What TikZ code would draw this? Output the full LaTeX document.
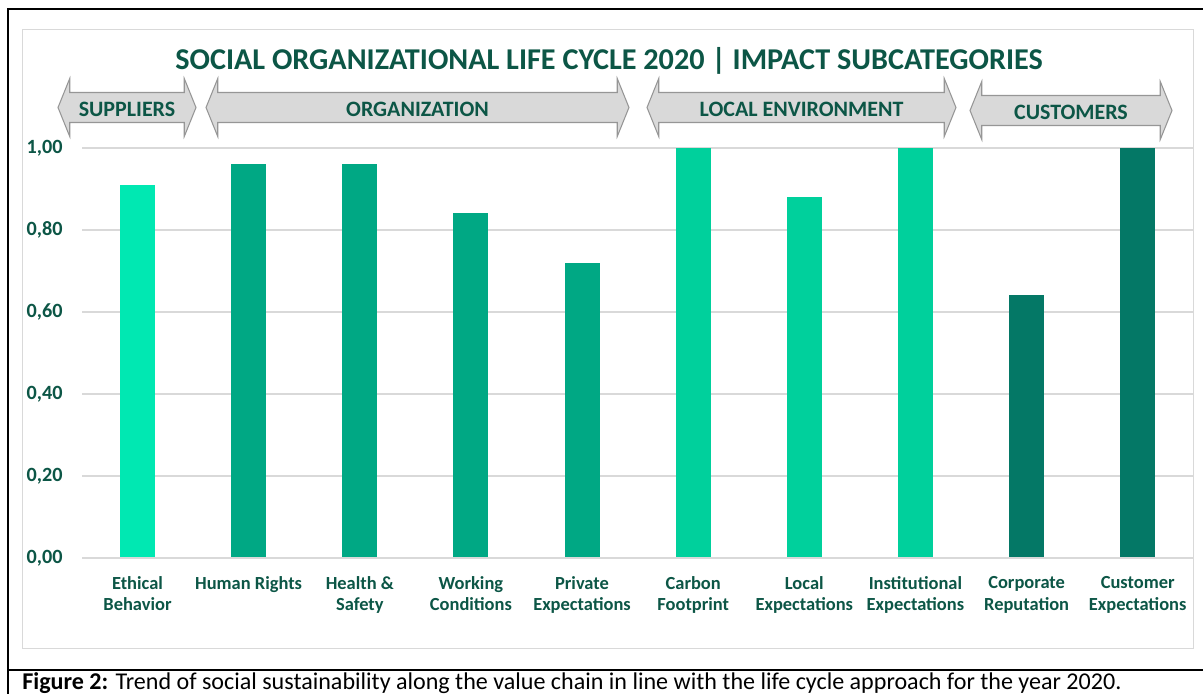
\documentclass[tikz,border=0pt]{standalone}
\usepackage{fontspec}
\setmainfont{Carlito}
\usepackage{xcolor}
\newlength{\barunit}
\newlength{\labgap}
\usepackage{tikz}
\usetikzlibrary{positioning}
\usetikzlibrary{shapes.arrows}
\definecolor{titlegreen}{RGB}{12,86,70}
\definecolor{suppcol}{RGB}{0,232,178}
\definecolor{orgcol}{RGB}{0,168,132}
\definecolor{envcol}{RGB}{0,208,156}
\definecolor{custcol}{RGB}{4,120,102}
\definecolor{gridgray}{RGB}{217,217,217}
\definecolor{arrowfill}{RGB}{217,217,217}
\definecolor{arrowline}{RGB}{150,150,150}
\tikzstyle{bar}=[rectangle, inner sep=0pt, minimum width=0.7cm, anchor=south]
\tikzstyle{catlab}=[inner sep=0pt, align=center, anchor=north, text=titlegreen, font=\bfseries\fontsize{10.5}{12.3}\selectfont]
\tikzstyle{ylab}=[inner sep=0pt, anchor=east, text=titlegreen, font=\bfseries\fontsize{11.5}{13}\selectfont]
\tikzstyle{grid}=[draw=gridgray, line width=0.8pt]
\tikzstyle{stage}=[double arrow, draw=arrowline, fill=arrowfill, line width=0.6pt, double arrow head extend=0.28cm, double arrow tip angle=136, inner xsep=0pt, inner ysep=0.08cm, text height=0.38cm, text depth=0.04cm, text=titlegreen, font=\bfseries\fontsize{12.5}{14}\selectfont]

\begin{document}
\begin{tikzpicture}[x=0.02cm, y=-0.02cm]

				\setlength{\barunit}{8.2cm}
				\setlength{\labgap}{0.36cm}

				\useasboundingbox (0,0) rectangle (1203,693);
				\clip (0,0) rectangle (1203,693);
				\fill[white] (0,0) rectangle (1203,693);

				% outer table frame
				\coordinate (tl) at (8,9);
				\coordinate (tr) at (1210,9);
				\coordinate (ml) at (8,670);
				\coordinate (mr) at (1210,670);
				\coordinate (bl) at (8,700);
				\draw [line width=1.6pt] (tr) -- (tl) -- (bl);
				\draw [line width=1.6pt] (ml) -- (mr);

				% chart area
				\node (frame) [draw=gridgray, line width=0.8pt, inner sep=0pt, minimum width=23.42cm, minimum height=12.38cm, anchor=north west] at (22,29) {};

				\node (title) [text=titlegreen, font=\bfseries\fontsize{17.2}{19}\selectfont] at (609,61) {SOCIAL ORGANIZATIONAL LIFE CYCLE 2020 | IMPACT SUBCATEGORIES};

				\node (supp) [stage, minimum height=2.76cm] at (127,107.5) {SUPPLIERS};
				\node (org) [stage, minimum height=8.46cm] at (417.5,107.5) {ORGANIZATION};
				\node (env) [stage, minimum height=6.18cm] at (801.5,107.5) {LOCAL ENVIRONMENT};
				\node (cust) [stage, minimum height=4.04cm] at (1071,110.5) {CUSTOMERS};

				% gridlines and axis labels
				\coordinate (g0) at (82,558);
				\coordinate (g0e) at (1193,558);
				\coordinate (g2) at (82,476);
				\coordinate (g2e) at (1193,476);
				\coordinate (g4) at (82,394);
				\coordinate (g4e) at (1193,394);
				\coordinate (g6) at (82,312);
				\coordinate (g6e) at (1193,312);
				\coordinate (g8) at (82,230);
				\coordinate (g8e) at (1193,230);
				\coordinate (g10) at (82,148);
				\coordinate (g10e) at (1193,148);
				\draw [grid] (g2) -- (g2e);
				\draw [grid] (g4) -- (g4e);
				\draw [grid] (g6) -- (g6e);
				\draw [grid] (g8) -- (g8e);
				\draw [grid] (g10) -- (g10e);

				\node (y0) [ylab] at (63,558) {0,00};
				\node (y2) [ylab] at (63,476) {0,20};
				\node (y4) [ylab] at (63,394) {0,40};
				\node (y6) [ylab] at (63,312) {0,60};
				\node (y8) [ylab] at (63,230) {0,80};
				\node (y10) [ylab] at (63,148) {1,00};

				% bars
				\node (b1) [bar, fill=suppcol, minimum height=0.91\barunit] at (137.5,558) {};
				\node (b2) [bar, fill=orgcol, minimum height=0.96\barunit] at (248.6,558) {};
				\node (b3) [bar, fill=orgcol, minimum height=0.96\barunit] at (359.8,558) {};
				\node (b4) [bar, fill=orgcol, minimum height=0.84\barunit] at (470.9,558) {};
				\node (b5) [bar, fill=orgcol, minimum height=0.72\barunit] at (582.0,558) {};
				\node (b6) [bar, fill=envcol, minimum height=1.00\barunit] at (693.2,558) {};
				\node (b7) [bar, fill=envcol, minimum height=0.88\barunit] at (804.3,558) {};
				\node (b8) [bar, fill=envcol, minimum height=1.00\barunit] at (915.4,558) {};
				\node (b9) [bar, fill=custcol, minimum height=0.64\barunit] at (1026.6,558) {};
				\node (b10) [bar, fill=custcol, minimum height=1.00\barunit] at (1137.7,558) {};
				\draw [grid] (g0) -- (g0e);

				% category labels
				\node (l1) [catlab, below=\labgap of b1.south] {Ethical\\Behavior};
				\node (l2) [catlab, below=\labgap of b2.south] {Human Rights};
				\node (l3) [catlab, below=\labgap of b3.south] {Health \&\\Safety};
				\node (l4) [catlab, below=\labgap of b4.south] {Working\\Conditions};
				\node (l5) [catlab, below=\labgap of b5.south] {Private\\Expectations};
				\node (l6) [catlab, below=\labgap of b6.south] {Carbon\\Footprint};
				\node (l7) [catlab, below=\labgap of b7.south] {Local\\Expectations};
				\node (l8) [catlab, below=\labgap of b8.south] {Institutional\\Expectations};
				\node (l9) [catlab, below=\labgap of b9.south] {Corporate\\Reputation};
				\node (l10) [catlab, below=\labgap of b10.south] {Customer\\Expectations};

				\node (caption) [anchor=base west, inner sep=0pt, font=\fontsize{13.7}{16}\selectfont] at (22,689) {\textbf{Figure 2:} Trend of social sustainability along the value chain in line with the life cycle approach for the year 2020.};
\end{tikzpicture}
\end{document}
